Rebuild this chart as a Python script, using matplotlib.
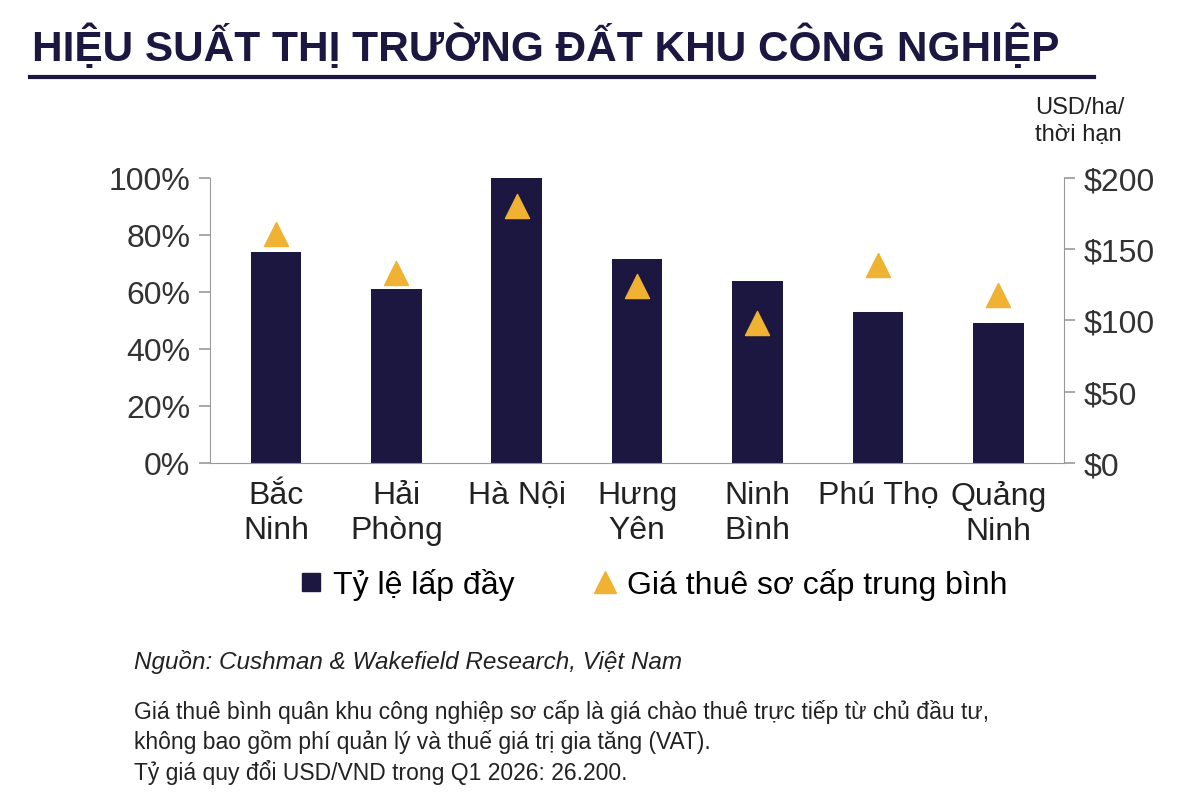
import matplotlib
matplotlib.use("Agg")
import matplotlib.pyplot as plt
from matplotlib.lines import Line2D

plt.rcParams["font.family"] = ["Liberation Sans", "DejaVu Sans"]

NAVY = "#1c1740"
GOLD = "#f0b232"

provinces = ["Bắc\nNinh", "Hải\nPhòng", "Hà Nội", "Hưng\nYên", "Ninh\nBình", "Phú Thọ", "Quảng\nNinh"]
occupancy = [74, 61, 100, 71.5, 64, 53, 49]
rent = [161, 133, 180, 124, 98, 139, 118]

fig = plt.figure(figsize=(11.92, 8.12), dpi=100)
ax = fig.add_axes([0.176, 0.4286, 0.717, 0.351])
x = range(len(provinces))
ax.bar(x, occupancy, width=0.42, color=NAVY)
ax.set_ylim(0, 100)
ax.set_xlim(-0.55, len(provinces) - 0.45)
ax.set_yticks(range(0, 101, 20))
ax.set_yticklabels([f"{v}%" for v in range(0, 101, 20)], fontsize=23, color="#333333")
ax.set_xticks(list(x))
ax.set_xticklabels(provinces, fontsize=23, color="#222222", linespacing=1.25)

ax2 = ax.twinx()
ax2.scatter(x, rent, marker="^", s=300, color=GOLD, zorder=3)
ax2.set_ylim(0, 200)
ax2.set_yticks(range(0, 201, 50))
ax2.set_yticklabels([f"${v}" for v in range(0, 201, 50)], fontsize=23, color="#333333")

for a in (ax, ax2):
    a.spines["top"].set_visible(False)
    for s in ("left", "right", "bottom"):
        a.spines[s].set_color("#999999")
    a.tick_params(axis="y", length=8, color="#999999", width=1.2, pad=6)
    a.tick_params(axis="x", length=0, pad=12)
ax.spines["right"].set_visible(False)
ax2.spines["left"].set_visible(False)
ax2.spines["bottom"].set_visible(False)

fig.text(0.868, 0.82, "USD/ha/\nthời hạn", fontsize=17, color="#222222", ha="left", va="bottom", linespacing=1.3)

handles = [
    Line2D([], [], marker="s", linestyle="", color=NAVY, markersize=13),
    Line2D([], [], marker="^", linestyle="", color=GOLD, markersize=16),
]
fig.legend(handles, ["Tỷ lệ lấp đầy", "Giá thuê sơ cấp trung bình"], loc="center",
           bbox_to_anchor=(0.545, 0.279), ncol=2, frameon=False, fontsize=23,
           handletextpad=0.1, columnspacing=2.2, handlelength=1.2)

fig.text(0.027, 0.942, "HIỆU SUẤT THỊ TRƯỜNG ĐẤT KHU CÔNG NGHIỆP", fontsize=30.5,
         fontweight="bold", color=NAVY, va="center")
fig.add_artist(Line2D([0.025, 0.918], [0.904, 0.904], color=NAVY, linewidth=3))

fig.text(0.112, 0.185, "Nguồn: Cushman & Wakefield Research, Việt Nam", fontsize=17.5,
         style="italic", color="#222222", va="center")
fig.text(0.112, 0.086,
         "Giá thuê bình quân khu công nghiệp sơ cấp là giá chào thuê trực tiếp từ chủ đầu tư,\n"
         "không bao gồm phí quản lý và thuế giá trị gia tăng (VAT).\n"
         "Tỷ giá quy đổi USD/VND trong Q1 2026: 26.200.",
         fontsize=16.5, color="#222222", va="center", linespacing=1.3)

fig.savefig("out.png", dpi=100)
